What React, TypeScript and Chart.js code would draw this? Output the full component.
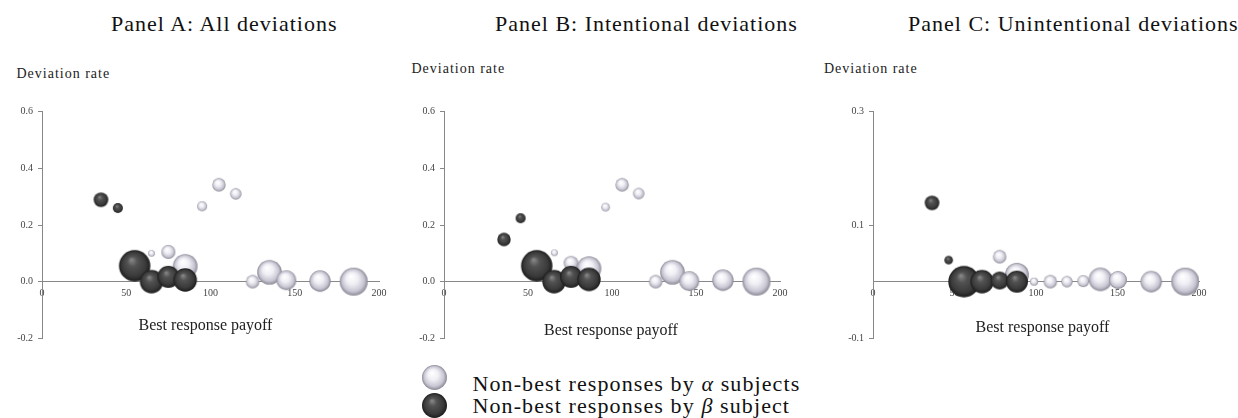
import React, { useEffect, useRef } from 'react';
import { Chart, registerables } from 'chart.js';
Chart.register(...registerables);

const FONT = '"Liberation Serif", "DejaVu Serif", serif';

// ---- Data (x = best response payoff, y = deviation rate, r = bubble size) ----
const titles = ['Panel A: All deviations', 'Panel B: Intentional deviations', 'Panel C: Unintentional deviations'];
const xTickStep = 50;

// Panel A
const alphaA_x = [65, 75, 85, 95, 105, 115, 125, 135, 145, 165, 185];
const alphaA_y = [0.1, 0.105, 0.054, 0.266, 0.342, 0.31, 0.0, 0.033, 0.005, 0.002, 0.0];
const alphaA_r = [3.3, 7, 12.3, 5, 6.7, 5.7, 6.7, 12.3, 10, 10.7, 14];
const betaA_x = [35, 45, 55, 65, 75, 85];
const betaA_y = [0.289, 0.26, 0.056, 0.0, 0.017, 0.006];
const betaA_r = [7.3, 5, 15.7, 11.7, 11, 11.7];

// Panel B
const alphaB_x = [65.7, 75.6, 86.3, 96.2, 106, 115.9, 126, 136, 146, 166, 186];
const alphaB_y = [0.102, 0.065, 0.046, 0.263, 0.342, 0.311, 0.0, 0.033, 0.002, 0.005, 0.0];
const alphaB_r = [3.3, 7.3, 12.3, 4.3, 6.7, 5.7, 6.7, 12.3, 10, 10.7, 14];
const betaB_x = [35.7, 45.6, 55.2, 65.5, 75.6, 86.3];
const betaB_y = [0.149, 0.224, 0.056, 0.0, 0.017, 0.008];
const betaB_r = [6.7, 5, 15.7, 11.7, 11, 11.7];

// Panel C
const alphaC_x = [77.7, 88.3, 98.8, 108.8, 119, 129, 139.5, 150.3, 170.7, 191.6];
const alphaC_y = [0.044, 0.012, 0.0, 0.0, 0.0, 0.001, 0.004, 0.003, 0.0, 0.0];
const alphaC_r = [6.7, 12, 4, 6.7, 5.7, 6, 11.7, 9, 10.7, 14];
const betaC_x = [36.2, 46.4, 55.8, 66.9, 77.7, 88.3];
const betaC_y = [0.139, 0.038, 0.0, 0.0, 0.002, 0.0];
const betaC_r = [7.3, 4.3, 15.7, 11.7, 9, 11];

// ---- Sphere sprites ----
const sphereCache: Record<string, HTMLCanvasElement> = {};
function makeSphere(r: number, dark: boolean): HTMLCanvasElement {
  const key = (dark ? 'd' : 'l') + r.toFixed(2);
  if (sphereCache[key]) return sphereCache[key];
  const size = Math.ceil(r * 2) + 2;
  const c = document.createElement('canvas');
  c.width = size;
  c.height = size;
  const g = c.getContext('2d')!;
  const cx = size / 2, cy = size / 2;
  const grad = g.createRadialGradient(cx - r * 0.2, cy - r * 0.38, r * 0.04, cx, cy, r);
  if (dark) {
    grad.addColorStop(0, '#858585');
    grad.addColorStop(0.3, '#525252');
    grad.addColorStop(0.75, '#3a3a3a');
    grad.addColorStop(1, '#1c1c1c');
  } else {
    grad.addColorStop(0, '#ffffff');
    grad.addColorStop(0.4, '#f0eff5');
    grad.addColorStop(0.78, '#c8c6d2');
    grad.addColorStop(1, '#8a8895');
  }
  g.beginPath();
  g.arc(cx, cy, r, 0, Math.PI * 2);
  g.fillStyle = grad;
  g.fill();
  sphereCache[key] = c;
  return c;
}

function toPoints(xs: number[], ys: number[], rs: number[]) {
  return xs.map((x, i) => ({ x, y: ys[i], r: rs[i] }));
}

type PanelProps = {
  left: number; top: number; width: number; height: number;
  pad: { left: number; top: number; right: number; bottom: number };
  yMin: number; yMax: number;
  alpha: { x: number; y: number; r: number }[];
  beta: { x: number; y: number; r: number }[];
};

function Panel(p: PanelProps) {
  const ref = useRef<HTMLCanvasElement>(null);
  useEffect(() => {
    const chart = new Chart(ref.current!, {
      type: 'bubble',
      data: {
        datasets: [
          { label: 'Non-best responses by β subject', data: p.beta, pointStyle: (ctx: any) => makeSphere(ctx.raw.r, true) } as any,
          { label: 'Non-best responses by α subjects', data: p.alpha, pointStyle: (ctx: any) => makeSphere(ctx.raw.r, false) } as any,
        ],
      },
      options: {
        animation: false,
        responsive: false,
        maintainAspectRatio: false,
        layout: { padding: p.pad },
        plugins: { legend: { display: false }, tooltip: { enabled: false } },
        scales: {
          x: {
            type: 'linear',
            position: { y: 0 } as any,
            min: 0,
            max: 200,
            ticks: { stepSize: xTickStep, padding: 6, color: '#444', font: { family: FONT, size: 10 }, maxRotation: 0, autoSkip: false },
            grid: { display: false, drawTicks: false },
            border: { color: '#888', width: 1 },
          },
          y: {
            type: 'linear',
            position: 'left',
            min: p.yMin,
            max: p.yMax,
            ticks: {
              stepSize: 0.2, padding: 5, color: '#444', font: { family: FONT, size: 10 },
              callback: (v: any) => Number(v).toFixed(1),
            },
            grid: { display: true, drawOnChartArea: false, drawTicks: true, tickLength: 4, color: '#888' },
            border: { color: '#888', width: 1 },
            afterFit: (s: any) => { s.width = 30; },
          },
        },
      } as any,
    });
    return () => chart.destroy();
  }, []);
  return (
    <canvas
      ref={ref}
      width={p.width}
      height={p.height}
      style={{ position: 'absolute', left: p.left, top: p.top, width: p.width, height: p.height }}
    />
  );
}

function SphereIcon({ cx, cy, r, dark }: { cx: number; cy: number; r: number; dark: boolean }) {
  const ref = useRef<HTMLCanvasElement>(null);
  const size = Math.ceil(r * 2) + 2;
  useEffect(() => {
    const g = ref.current!.getContext('2d')!;
    g.clearRect(0, 0, size, size);
    g.drawImage(makeSphere(r, dark), 0, 0);
  }, []);
  return <canvas ref={ref} width={size} height={size} style={{ position: 'absolute', left: cx - size / 2, top: cy - size / 2 }} />;
}

const txt = (s: React.CSSProperties): React.CSSProperties => ({
  position: 'absolute', fontFamily: FONT, color: '#111', whiteSpace: 'nowrap', lineHeight: 1, ...s,
});

export default function App() {
  return (
    <div style={{ position: 'absolute', left: 0, top: 0, width: 1238, height: 418, background: '#fff', overflow: 'hidden' }}>
      <div style={txt({ left: 111, top: 13.3, fontSize: 22, letterSpacing: 1 })}>{titles[0]}</div>
      <div style={txt({ left: 495, top: 13.3, fontSize: 22, letterSpacing: 1 })}>{titles[1]}</div>
      <div style={txt({ left: 908, top: 13.3, fontSize: 22, letterSpacing: 1 })}>{titles[2]}</div>

      <div style={txt({ left: 16.5, top: 67.3, fontSize: 14, letterSpacing: 1, color: '#222' })}>Deviation rate</div>
      <div style={txt({ left: 411.5, top: 61.6, fontSize: 14, letterSpacing: 1, color: '#222' })}>Deviation rate</div>
      <div style={txt({ left: 824, top: 61.6, fontSize: 14, letterSpacing: 1, color: '#222' })}>Deviation rate</div>

      <Panel left={0} top={95} width={400} height={260}
        pad={{ left: 12, top: 14, right: 21, bottom: 13 }} yMin={-0.2} yMax={0.6}
        alpha={toPoints(alphaA_x, alphaA_y, alphaA_r)} beta={toPoints(betaA_x, betaA_y, betaA_r)} />
      <Panel left={400} top={95} width={410} height={260}
        pad={{ left: 14, top: 12, right: 30, bottom: 15 }} yMin={-0.2} yMax={0.6}
        alpha={toPoints(alphaB_x, alphaB_y, alphaB_r)} beta={toPoints(betaB_x, betaB_y, betaB_r)} />
      <Panel left={810} top={95} width={428} height={260}
        pad={{ left: 33, top: 12, right: 39, bottom: 16 }} yMin={-0.1} yMax={0.3}
        alpha={toPoints(alphaC_x, alphaC_y, alphaC_r)} beta={toPoints(betaC_x, betaC_y, betaC_r)} />

      <div style={txt({ left: 205.5, top: 324.6, fontSize: 16, color: '#222', transform: 'translate(-50%,-50%)' })}>Best response payoff</div>
      <div style={txt({ left: 611, top: 329.6, fontSize: 16, color: '#222', transform: 'translate(-50%,-50%)' })}>Best response payoff</div>
      <div style={txt({ left: 1042.5, top: 326.6, fontSize: 16, color: '#222', transform: 'translate(-50%,-50%)' })}>Best response payoff</div>

      <SphereIcon cx={434} cy={377} r={12.5} dark={false} />
      <SphereIcon cx={434} cy={405} r={12.5} dark={true} />
      <div style={txt({ left: 472.5, top: 372.6, fontSize: 22, letterSpacing: 1.1 })}>
        Non-best responses by <i>α</i> subjects
      </div>
      <div style={txt({ left: 472.5, top: 394.6, fontSize: 22, letterSpacing: 1.1 })}>
        Non-best responses by <i>β</i> subject
      </div>
    </div>
  );
}
